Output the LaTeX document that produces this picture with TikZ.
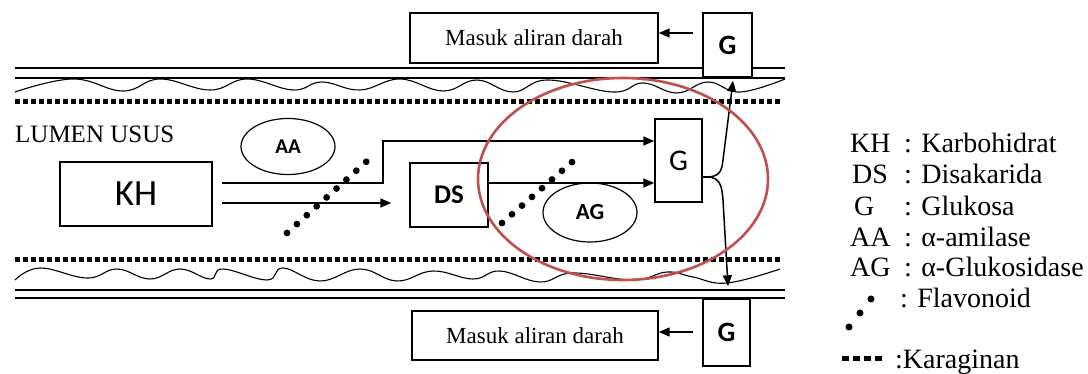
\documentclass[tikz,border=0pt]{standalone}
\usepackage{fontspec}
\setmainfont{Liberation Serif}
\newfontfamily\tnr{Liberation Serif}
\newfontfamily\boxfont{Carlito}
\usetikzlibrary{arrows.meta,calc,shapes.geometric}
\definecolor{ringred}{RGB}{192,80,77}
\begin{document}
\begin{tikzpicture}[x=1pt,y=-1pt,
  box/.style={draw, line width=1.4pt, inner sep=0pt, fill=white},
  arr/.style={line width=1.5pt, -{Triangle[length=11pt,width=9pt]}},
  track/.style={line width=1.8pt},
  karag/.style={line width=5pt, dash pattern=on 5pt off 3pt},
  wave/.style={line width=1.1pt},
  enz/.style={draw, ellipse, line width=1.2pt, inner sep=0pt},
  leg/.style={anchor=base west, inner sep=0pt, font=\tnr\fontsize{28}{30}\selectfont},
  dot/.style={fill=black}]
\fill[white] (0,0) rectangle (1088,374);
\useasboundingbox (0,0) rectangle (1088,374);

% membrane top
\draw[track] (15,68) -- (785,68);
\draw[track] (15,78) -- (785,78);
\draw[wave] plot[smooth, tension=0.7] coordinates {(15,92) (73,79) (123,91) (160,79) (210,90) (247,79) (293,90) (322,82) (360,90) (400,79) (443,91) (477,80) (513,92) (548,80) (613,92) (643,83) (677,93) (708,82) (740,92) (785,79)};
\draw[karag] (15,102) -- (781,102);

% membrane bottom
\draw[karag] (15,260) -- (781,260);
\draw[wave] plot[smooth, tension=0.7] coordinates {(15,280) (40,268) (87,278) (117,269) (150,279) (180,269) (210,279) (223,269) (267,280) (283,268) (320,281) (360,269) (397,281) (433,271) (473,279) (500,271) (540,282) (573,273) (633,280) (667,272) (693,277) (727,283) (780,269)};
\draw[track] (15,290) -- (785,290);
\draw[track] (15,298) -- (785,298);

% boxes
\node[box, minimum width=248pt, minimum height=50pt, font=\tnr\fontsize{23}{25}\selectfont] (m1) at (534,38) {Masuk aliran darah};
\node[box, minimum width=49pt, minimum height=64pt, font=\boxfont\bfseries\fontsize{28}{30}\selectfont] (Gt) at (727.5,45) {G};
\node[box, minimum width=246pt, minimum height=49pt, font=\tnr\fontsize{23}{25}\selectfont] (m2) at (535,335.5) {Masuk aliran darah};
\node[box, minimum width=47pt, minimum height=67pt, font=\boxfont\bfseries\fontsize{28}{30}\selectfont] (Gb) at (726.5,332.5) {G};

\node[anchor=base west, inner sep=0pt, font=\tnr\fontsize{25}{27}\selectfont] (lumen) at (15,143) {LUMEN USUS};

\node[box, minimum width=152pt, minimum height=64pt, font=\boxfont\fontsize{37}{40}\selectfont] (KH) at (136,194) {KH};
\node[box, minimum width=78pt, minimum height=64pt, font=\boxfont\bfseries\fontsize{27}{30}\selectfont] (DS) at (449,195) {DS};
\node[box, minimum width=47pt, minimum height=83pt, font=\boxfont\fontsize{30}{32}\selectfont] (Gm) at (678.5,160.5) {G};

\node[enz, minimum width=94pt, minimum height=56pt, font=\boxfont\bfseries\fontsize{21}{23}\selectfont] (AA) at (288,146.5) {AA};
\node[enz, minimum width=94pt, minimum height=59pt, font=\boxfont\bfseries\fontsize{23}{25}\selectfont] (AG) at (590,212.5) {AG};

% connectors
\coordinate (a1) at (693,33);
\draw[arr] (a1) -- (a1 -| m1.east);
\coordinate (a2) at (693,332);
\draw[arr] (a2) -- (a2 -| m2.east);

\coordinate (k1) at (222,183);
\coordinate (bend) at (383,141);
\draw[arr] (k1) -| (bend) -- (bend -| Gm.west);
\coordinate (k2) at (222,203);
\draw[arr] (k2) -- ([xshift=-18pt]DS.west |- k2);
\coordinate (d1) at (490,183);
\draw[arr] (DS.east |- d1) -- (Gm.west |- d1);

\coordinate (split) at (707,177);
\draw[line width=1.5pt] (Gm.east |- split) -- (split);
\draw[arr] (split) .. controls (720,177) and (722,170) .. (723,160) -- ([shift={(5.5pt,-3pt)}]Gt.south);
\draw[arr] (split) .. controls (720,177) and (722,186) .. (723,200) -- ([shift={(1.5pt,12pt)}]Gb.north);

% flavonoid dots
\foreach \i in {0,...,8} \fill[dot] ({287+9.9*\i},{233-8.9*\i}) circle (3.4pt);
\foreach \i in {0,...,7} \fill[dot] ({502+10*\i},{223-8.7*\i}) circle (3.4pt);

% red ring
\draw[ringred, line width=2.6pt] (623,179) ellipse [x radius=145, y radius=101];

% legend
\node[leg] (lkh) at (850,153) {KH};
\node[leg] (lkht) at (904,153) {: Karbohidrat};
\node[leg] (lds) at (852,184) {DS};
\node[leg] (ldst) at (904,184) {: Disakarida};
\node[leg] (lg) at (854,216) {G};
\node[leg] (lgt) at (904,216) {: Glukosa};
\node[leg] (laa) at (850,247) {AA};
\node[leg] (laat) at (904,247) {: α-amilase};
\node[leg] (lag) at (850,277) {AG};
\node[leg] (lagt) at (904,277) {: α-Glukosidase};
\fill[dot] (849,327) circle (3.5pt);
\fill[dot] (860,313) circle (3.5pt);
\fill[dot] (871,299) circle (3.5pt);
\node[leg] (lfl) at (900,308) {: Flavonoid};
\draw[line width=5pt, dash pattern=on 7pt off 4pt] (842,358) -- (882,358);
\node[leg] (lka) at (895,368) {:Karaginan};
\end{tikzpicture}
\end{document}
